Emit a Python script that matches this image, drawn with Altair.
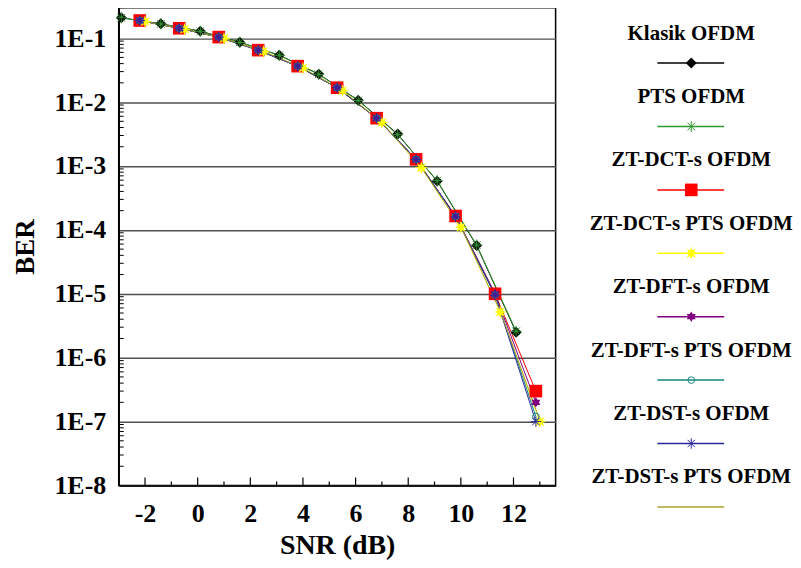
import altair as alt
import pandas as pd

# ---------------- data ----------------
series_names = [
    "Klasik OFDM",
    "PTS OFDM",
    "ZT-DCT-s OFDM",
    "ZT-DCT-s PTS OFDM",
    "ZT-DFT-s OFDM",
    "ZT-DFT-s PTS OFDM",
    "ZT-DST-s OFDM",
    "ZT-DST-s PTS OFDM",
]

snr_a = [-2.9, -1.4, 0.1, 1.6, 3.1, 4.6, 6.1, 7.6, 9.1, 10.6, 12.1]
snr_b = [-2.2, -0.7, 0.8, 2.3, 3.8, 5.3, 6.8, 8.3, 9.8, 11.3, 12.85]
snr_c = [-2.0, -0.5, 1.0, 2.5, 4.0, 5.5, 7.0, 8.5, 10.0, 11.5, 13.0]

ber_klasik = [0.209, 0.168, 0.129, 0.0866, 0.0542, 0.0274, 0.0107, 0.00316, 5.8e-4, 5.7e-5, 2.5e-6]
ber_pts = [0.208, 0.167, 0.128, 0.086, 0.054, 0.0272, 0.0106, 0.0031, 5.9e-4, 5.8e-5, 2.6e-6]
ber_dct = [0.189, 0.143, 0.104, 0.065, 0.0365, 0.0168, 0.0056, 0.00127, 1.65e-4, 1.0e-5, 3.0e-7]
ber_dct_pts = [0.182, 0.138, 0.099, 0.062, 0.034, 0.0151, 0.0048, 9.4e-4, 1.1e-4, 5.2e-6, 1.0e-7]
ber_dft = [0.189, 0.143, 0.104, 0.065, 0.0365, 0.0168, 0.0056, 0.00127, 1.65e-4, 1.0e-5, 2.0e-7]
ber_dft_pts = [0.189, 0.143, 0.104, 0.065, 0.0365, 0.0168, 0.0056, 0.00127, 1.62e-4, 9.6e-6, 1.2e-7]
ber_dst = [0.189, 0.143, 0.104, 0.065, 0.0365, 0.0168, 0.0056, 0.00127, 1.6e-4, 9.5e-6, 1.0e-7]
ber_dst_pts = [0.182, 0.138, 0.099, 0.062, 0.034, 0.0151, 0.0048, 9.4e-4, 1.12e-4, 5.3e-6, 1.05e-7]

snr_per_series = [snr_a, snr_a, snr_b, snr_c, snr_b, snr_b, snr_b, snr_c]
ber_per_series = [ber_klasik, ber_pts, ber_dct, ber_dct_pts, ber_dft, ber_dft_pts, ber_dst, ber_dst_pts]

x_major_ticks = [-2, 0, 2, 4, 6, 8, 10, 12]
x_minor_ticks = [-1, 1, 3, 5, 7, 9, 11, 13]
y_decades = [1e-1, 1e-2, 1e-3, 1e-4, 1e-5, 1e-6, 1e-7, 1e-8]
y_minor_ticks = [m * d for d in [1e-8, 1e-7, 1e-6, 1e-5, 1e-4, 1e-3, 1e-2] for m in range(2, 10)] + [0.2, 0.3]

# ---------------- styles ----------------
colors = ["#000000", "#2f9a2f", "#ff0000", "#ffff00", "#800080", "#138585", "#2a2aa0", "#aaa22e"]

ASTER = "M-1,0L1,0M0,-1L0,1M-0.7,-0.7L0.7,0.7M-0.7,0.7L0.7,-0.7"
HEX = ("M0,-1L0.29,-0.5L0.866,-0.5L0.58,0L0.866,0.5L0.29,0.5L0,1L-0.29,0.5"
       "L-0.866,0.5L-0.58,0L-0.866,-0.5L-0.29,-0.5Z")
BURST = ("M0,-1L0.172,-0.416L0.707,-0.707L0.416,-0.172L1,0L0.416,0.172L0.707,0.707"
         "L0.172,0.416L0,1L-0.172,0.416L-0.707,0.707L-0.416,0.172L-1,0L-0.416,-0.172"
         "L-0.707,-0.707L-0.172,-0.416Z")

markers = [
    dict(shape="diamond", filled=True, size=120),
    dict(shape=ASTER, filled=False, size=120, strokeWidth=1),
    dict(shape="square", filled=True, size=160),
    dict(shape=BURST, filled=True, size=170),
    dict(shape=HEX, filled=True, size=110),
    dict(shape="circle", filled=False, size=45, strokeWidth=1),
    dict(shape=ASTER, filled=False, size=110, strokeWidth=1),
    None,
]

FONT = "Liberation Serif"
W, H = 438, 479

rows = []
for name, xs, ys in zip(series_names, snr_per_series, ber_per_series):
    for x, y in zip(xs, ys):
        rows.append({"series": name, "snr": x, "ber": y})
df = pd.DataFrame(rows)

xscale = alt.Scale(domain=[-3, 13.6], nice=False, zero=False)
yscale = alt.Scale(type="log", domain=[1e-8, 0.3], nice=False)

x_enc = alt.X(
    "snr:Q", scale=xscale,
    axis=alt.Axis(values=x_major_ticks, ticks=False, grid=False, title="SNR (dB)",
                  labelExpr="datum.value < 0 ? '-' + abs(datum.value) : '' + datum.value",
                  labelFont=FONT, labelFontWeight="bold", labelFontSize=26, labelColor="black",
                  labelPadding=15, labelFlush=False,
                  titleFont=FONT, titleFontWeight="bold", titleFontSize=28, titleColor="black",
                  titlePadding=5, domainColor="black", domainWidth=1.5),
)
y_enc = alt.Y(
    "ber:Q", scale=yscale,
    axis=alt.Axis(values=y_decades, ticks=False, grid=True, gridColor="#505050", gridWidth=1.5,
                  labelExpr="'1E' + round(log(datum.value) / LN10)",
                  title="BER",
                  labelFont=FONT, labelFontWeight="bold", labelFontSize=26, labelColor="black",
                  labelPadding=13, labelFlush=False,
                  titleFont=FONT, titleFontWeight="bold", titleFontSize=27, titleColor="black",
                  titlePadding=14, domainColor="black", domainWidth=1.5),
)

color_scale = alt.Scale(domain=series_names, range=colors)

lines = alt.Chart(df).mark_line(strokeWidth=1, clip=True).encode(
    x=x_enc, y=y_enc,
    color=alt.Color("series:N", scale=color_scale, legend=None),
    detail="series:N",
)

point_layers = []
for name, col, mk in zip(series_names, colors, markers):
    if mk is None:
        continue
    mk = dict(mk)
    pl = alt.Chart(df[df.series == name]).mark_point(
        opacity=1, color=col, **mk
    ).encode(x=alt.X("snr:Q", scale=xscale), y=alt.Y("ber:Q", scale=yscale))
    point_layers.append(pl)

ymin_df = pd.DataFrame({"v": y_minor_ticks})
ymin = alt.Chart(ymin_df).mark_rule(color="black", strokeWidth=1).encode(
    y=alt.Y("v:Q", scale=yscale), x=alt.value(0), x2=alt.value(5)
)
xmaj = alt.Chart(pd.DataFrame({"v": x_major_ticks})).mark_rule(color="black", strokeWidth=1.2).encode(
    x=alt.X("v:Q", scale=xscale), y=alt.value(H), y2=alt.value(H - 8)
)
xmin = alt.Chart(pd.DataFrame({"v": x_minor_ticks})).mark_rule(color="black", strokeWidth=1.2).encode(
    x=alt.X("v:Q", scale=xscale), y=alt.value(H), y2=alt.value(H - 4)
)

main = alt.layer(lines, *point_layers, ymin, xmaj, xmin).properties(
    width=W, height=H,
    view=alt.ViewBackground(stroke="black", strokeWidth=1.5),
)

# ---------------- custom legend panel (label above line sample) ----------------
LW, LH = 200, 497
CX = 115
leg_df = pd.DataFrame({"series": series_names})
leg_y = alt.Y("series:N", sort=series_names, scale=alt.Scale(type="point", padding=0.409), axis=None)

leg_text = alt.Chart(leg_df).mark_text(
    font=FONT, fontWeight="bold", fontSize=21, color="black", align="center", baseline="middle"
).encode(y=leg_y, x=alt.value(CX), text="series:N")

leg_rule = alt.Chart(leg_df).mark_rule(strokeWidth=1.5, yOffset=29.5).encode(
    y=leg_y, x=alt.value(CX - 34), x2=alt.value(CX + 33),
    color=alt.Color("series:N", scale=color_scale, legend=None),
)

leg_points = []
for name, col, mk in zip(series_names, colors, markers):
    if mk is None:
        continue
    mk = dict(mk)
    leg_points.append(
        alt.Chart(leg_df[leg_df.series == name]).mark_point(
            opacity=1, color=col, yOffset=29.5, **mk
        ).encode(y=leg_y, x=alt.value(CX))
    )

legend = alt.layer(leg_text, leg_rule, *leg_points).properties(
    width=LW, height=LH,
    view=alt.ViewBackground(stroke="transparent", strokeWidth=0),
)

chart = alt.hconcat(main, legend, spacing=20).properties(
    padding={"left": 3, "top": -3, "right": 0, "bottom": 0}
).configure(background="white")

chart.save("out.html", embed_options={"renderer": "svg", "actions": False})
